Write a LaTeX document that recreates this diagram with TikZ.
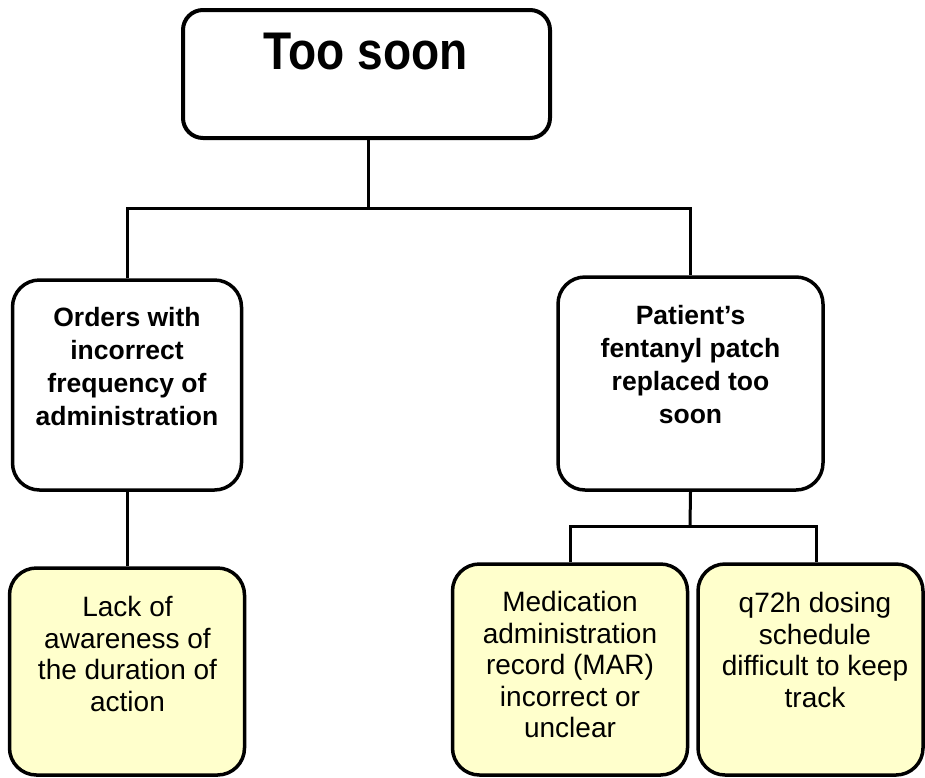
\documentclass[tikz,border=0pt]{standalone}
\usepackage{fontspec}
\setmainfont{Liberation Sans}
\usepackage{graphicx}
\definecolor{notefill}{HTML}{FFFFCC}
\begin{document}
\begin{tikzpicture}[x=1pt,y=-1pt,
  box/.style={draw=black, line width=3.5pt, rounded corners=27pt, inner sep=0pt, fill=white},
  cause/.style={box, fill=notefill},
  wire/.style={line width=3pt},
  headtxt/.style={anchor=north, inner sep=0pt, align=center,
    font=\fontsize{26.5}{33}\selectfont\bfseries},
  leaftxt/.style={anchor=north, inner sep=0pt, align=center,
    font=\fontsize{28}{31.6}\selectfont},
]
\useasboundingbox (0,0) rectangle (925,777);

% root
\node[box, rounded corners=20pt, line width=4pt, minimum width=367pt, minimum height=128pt] (root) at (366.5,74) {};
\node[anchor=north, inner sep=0pt, font=\fontsize{53}{60}\selectfont\bfseries] (roott) at (365.5,33) {\scalebox{0.87}[1]{Too soon}};

% second level
\node[box, minimum width=229pt, minimum height=210pt] (orders) at (127,385) {};
\node[headtxt] (orderst) at (127,307) {Orders with\\incorrect\\frequency of\\administration};

\node[box, minimum width=265pt, minimum height=213pt] (patch) at (690.5,383.5) {};
\node[headtxt] (patcht) at (690.5,305) {Patient’s\\fentanyl patch\\replaced too\\soon};

% causes
\node[cause, minimum width=235pt, minimum height=207pt] (lack) at (127,671.5) {};
\node[leaftxt] (lackt) at (127.5,596) {Lack of\\awareness of\\the duration of\\action};

\node[cause, minimum width=235pt, minimum height=211pt] (mar) at (570,669.5) {};
\node[leaftxt] (mart) at (570,591) {Medication\\administration\\record (MAR)\\incorrect or\\unclear};

\node[cause, minimum width=225pt, minimum height=211pt] (sched) at (810.5,669.5) {};
\node[leaftxt] (schedt) at (815,592) {q72h dosing\\schedule\\difficult to keep\\track};

% connectors
\coordinate (split1) at (368,208);
\coordinate (split2) at (690,526);
\draw[wire] ([xshift=1.5pt]root.south) -- (split1);
\draw[wire] (orders.north) |- (split1) -| (patch.north);
\draw[wire] (orders.south) -- (lack.north);
\draw[wire] (patch.south) -- (split2);
\draw[wire] (mar.north) |- (split2) -| ([xshift=6pt]sched.north);
\end{tikzpicture}
\end{document}
